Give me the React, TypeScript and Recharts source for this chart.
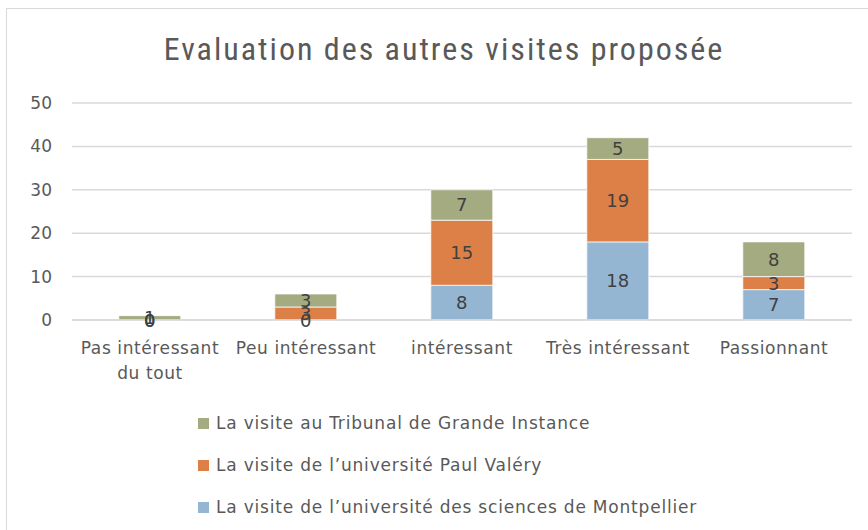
import React from "react";
import { Bar, BarChart, CartesianGrid, LabelList, XAxis, YAxis } from "recharts";

const categories = ["Pas intéressant du tout", "Peu intéressant", "intéressant", "Très intéressant", "Passionnant"];
const sciences = [0, 0, 8, 18, 7];
const paulValery = [0, 3, 15, 19, 3];
const tribunal = [1, 3, 7, 5, 8];
const yTicks = [0, 10, 20, 30, 40, 50];

const seriesNames = {
  sciences: "La visite de l’université des sciences de Montpellier",
  paulValery: "La visite de l’université Paul Valéry",
  tribunal: "La visite au Tribunal de Grande Instance",
};

const colors = { sciences: "#94b6d2", paulValery: "#dd8047", tribunal: "#a5ab81" };

const data = categories.map((name, i) => ({
  name,
  sciences: sciences[i],
  paulValery: paulValery[i],
  tribunal: tribunal[i],
}));

const FONT = "'DejaVu Sans', sans-serif";
const TEXT = "#595959";

const CHART_W = 868;
const PLOT_LEFT = 72;
const PLOT_RIGHT = 16;

const wrap = (s: string, max: number) => {
  const words = s.split(" ");
  const lines: string[] = [];
  let cur = "";
  for (const w of words) {
    const next = cur ? cur + " " + w : w;
    if (next.length > max && cur) {
      lines.push(cur);
      cur = w;
    } else cur = next;
  }
  if (cur) lines.push(cur);
  return lines;
};

const CategoryTick = (props: any) => {
  const { x, y, payload } = props;
  const lines = wrap(String(payload.value), 17);
  return (
    <text x={x} y={y} textAnchor="middle" fill={TEXT} fontSize={17} letterSpacing={0.6} fontFamily={FONT}>
      {lines.map((l, i) => (
        <tspan key={i} x={x} dy={i === 0 ? 26 : 25}>
          {l}
        </tspan>
      ))}
    </text>
  );
};

const labelText = (key: string, x: number, y: number, value: number) => (
  <text
    key={key}
    x={x}
    y={y}
    textAnchor="middle"
    dominantBaseline="central"
    fill="#404040"
    fontSize={18}
    fontFamily={FONT}
  >
    {value}
  </text>
);

// zero-height segments get no label of their own, so the segment stacked
// above them writes their "0" at its base, as Excel does
const makeLabel = (series: "sciences" | "paulValery" | "tribunal") => (props: any) => {
  const { x, y, width, height, value } = props;
  if (value === undefined || value === null) return null;
  const cx = Number(x) + Number(width) / 2;
  const base = Number(y) + Number(height);
  // which category this segment sits in (label indexes skip empty segments)
  const band = (CHART_W - PLOT_LEFT - PLOT_RIGHT) / categories.length;
  const idx = Math.max(0, Math.min(categories.length - 1, Math.floor((cx - PLOT_LEFT) / band)));
  const zeros: React.ReactNode[] = [];
  if (series === "paulValery" && sciences[idx] === 0) zeros.push(labelText("z-s", cx, base, 0));
  if (series === "tribunal" && paulValery[idx] === 0) {
    if (sciences[idx] === 0) zeros.push(labelText("z-s", cx, base, 0));
    zeros.push(labelText("z-p", cx, base, 0));
  }
  return (
    <g>
      {labelText(series, cx, Number(y) + Number(height) / 2, value)}
      {zeros}
    </g>
  );
};

const legendOrder: (keyof typeof seriesNames)[] = ["tribunal", "paulValery", "sciences"];

export default function App() {
  return (
    <div style={{ position: "absolute", left: 0, top: 0, width: 868, height: 530, overflow: "hidden", background: "#fff" }}>
      <div
        style={{
          position: "absolute",
          left: 6,
          top: 8,
          width: 880,
          height: 540,
          border: "1px solid #d9d9d9",
          boxSizing: "border-box",
        }}
      />
      <div
        style={{
          position: "absolute",
          left: 0,
          top: 30,
          width: 888,
          textAlign: "center",
          fontFamily: "'Liberation Sans Narrow', 'Roboto Condensed', Lato, sans-serif",
          fontSize: 32,
          letterSpacing: 2,
          color: TEXT,
        }}
      >
        Evaluation des autres visites proposée
      </div>
      <div style={{ position: "absolute", left: 0, top: 0 }}>
        <BarChart
          width={CHART_W}
          height={530}
          data={data}
          margin={{ top: 103, right: PLOT_RIGHT, bottom: 120, left: 0 }}
          barCategoryGap="30%"
        >
          <CartesianGrid vertical={false} stroke="#d9d9d9" strokeWidth={1.5} />
          <XAxis
            dataKey="name"
            height={90}
            axisLine={{ stroke: "#d9d9d9", strokeWidth: 1.5 }}
            tickLine={false}
            tick={<CategoryTick />}
            interval={0}
          />
          <YAxis
            width={PLOT_LEFT}
            domain={[0, 50]}
            ticks={yTicks}
            axisLine={false}
            tickLine={false}
            tickSize={0}
            tickMargin={20}
            tick={{ fill: TEXT, fontSize: 17, fontFamily: FONT }}
          />
          {(["sciences", "paulValery", "tribunal"] as const).map((k) => (
            <Bar
              key={k}
              dataKey={k}
              stackId="a"
              fill={colors[k]}
              stroke="#ffffff"
              strokeWidth={0.75}
              name={seriesNames[k]}
              isAnimationActive={false}
            >
              <LabelList dataKey={k} content={makeLabel(k)} />
            </Bar>
          ))}
        </BarChart>
      </div>
      <div
        style={{
          position: "absolute",
          left: 198,
          top: 402,
          fontFamily: FONT,
          fontSize: 17,
          letterSpacing: 0.8,
          color: TEXT,
        }}
      >
        {legendOrder.map((k) => (
          <div key={k} style={{ display: "flex", alignItems: "center", height: 42 }}>
            <span style={{ display: "inline-block", width: 11, height: 11, background: colors[k], marginRight: 7 }} />
            {seriesNames[k]}
          </div>
        ))}
      </div>
    </div>
  );
}
